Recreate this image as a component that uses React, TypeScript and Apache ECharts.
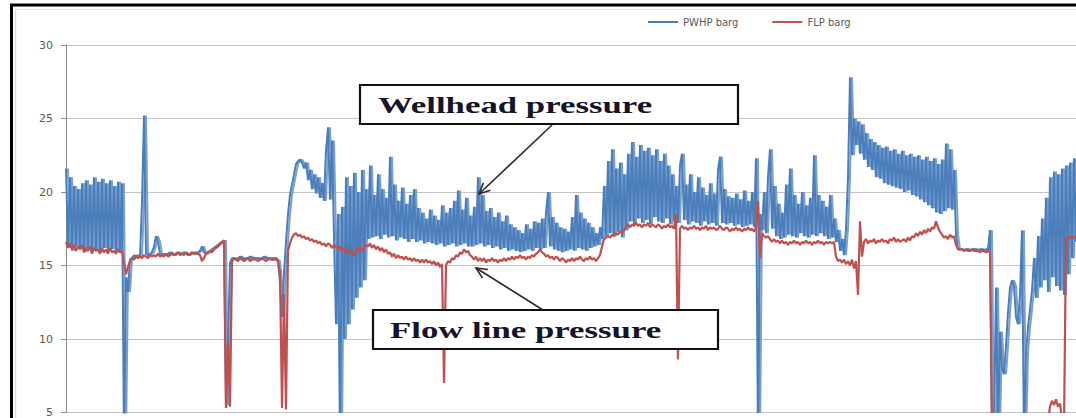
import React, { useEffect, useRef } from 'react';
import * as echarts from 'echarts';

// Y-axis ticks and series names
const yTicks = [5, 10, 15, 20, 25, 30];
const seriesNames = ['PWHP barg', 'FLP barg'];

// PWHP barg (wellhead pressure), one reading every 2 samples
const pwhp1 = [21.6, 16.2, 21.0, 16.0, 20.4, 16.3, 20.2, 16.1, 20.6, 15.9, 20.8, 16.2, 20.5, 16.0, 21.0, 16.1, 20.7, 15.9, 20.9, 16.2, 20.6, 16.0, 20.8, 16.1, 20.4, 15.9, 20.7, 16.0, 20.6];
const pwhp2 = [3.0, 14.2, 13.2, 15.4, 15.5, 15.7, 15.6, 15.7, 15.6, 19.3, 25.2, 15.8, 15.7, 15.8, 15.9, 16.3, 17.0, 16.6, 15.8, 15.7, 15.8, 15.7, 15.8, 15.9, 15.8, 15.7, 15.8, 15.9, 15.8, 15.8, 15.9, 15.8, 15.7, 15.8, 15.9, 15.8, 15.8, 15.9, 16.0, 16.3, 15.9, 15.8, 15.9, 16.0, 16.1, 16.2, 16.3, 16.4, 16.5, 16.6];
const pwhp3 = [16.7, 5.5, 9.8, 15.2, 15.5, 15.5, 15.4, 15.5, 15.6, 15.5, 15.4, 15.5, 15.5, 15.6, 15.5, 15.4, 15.5, 15.5, 15.4, 15.5, 15.6, 15.5, 15.5, 15.4, 15.5, 15.5, 15.4, 15.3];
const pwhp4 = [13.8, 11.5, 14.5, 16.6, 18.5, 19.8, 20.5, 21.2, 21.9, 22.1, 22.2, 22.0, 21.6, 22.0, 20.8, 21.5, 20.2, 21.2, 19.9, 21.0, 19.6, 20.6, 19.4, 22.8, 24.4, 19.5, 23.5, 17.0, 11.0, 18.5, 3.0, 19.0, 10.0, 21.0, 11.0, 20.4, 12.0, 21.3, 12.8, 20.0, 13.5, 21.5, 14.0, 20.2];
const pwhp5 = [16.8, 21.8, 16.9, 19.8, 17.0, 21.2, 16.8, 20.2, 17.1, 19.6, 16.9, 22.4, 17.0, 20.5, 16.7, 19.4, 16.9, 20.3, 16.8, 19.2, 16.6, 19.8, 16.8, 20.2, 16.6, 18.9, 16.7, 18.6, 16.5, 18.2, 16.6, 18.8, 16.5, 18.4, 16.4, 18.1, 16.5, 19.1, 16.3, 18.6, 16.4, 18.9, 16.5, 19.4, 16.3, 20.1, 16.4, 18.8, 16.5, 19.6, 16.3, 18.4];
const pwhp6 = [16.3, 19.0, 16.4, 21.0, 16.5, 19.8, 16.3, 18.7, 16.4, 18.9, 16.2, 18.3, 16.3, 18.6, 16.1, 18.0, 16.2, 18.4, 16.0, 17.8, 16.1, 17.6, 16.0, 17.4, 15.9, 17.2, 16.0, 17.8, 16.1, 17.5, 16.0, 18.0, 16.2, 17.9, 16.1, 18.2, 16.2, 18.6, 20.0, 16.3, 18.3, 16.1, 17.9, 16.0, 17.6, 15.9, 17.5, 16.0, 17.3, 16.1, 18.3, 16.0, 19.8, 16.2, 18.6, 16.1, 18.2, 16.0, 17.9, 16.2, 17.6, 16.3, 17.2, 16.4, 17.6, 16.8];
const pwhp7 = [20.4, 17.0, 22.1, 17.2, 22.9, 17.0, 21.6, 17.3, 22.0, 16.9, 21.2, 17.4, 22.6, 18.0, 23.4, 17.8, 22.4, 18.2, 23.2, 17.9, 22.8, 18.1, 23.0, 17.8, 22.5, 18.3, 22.9, 18.0, 22.1, 17.9, 22.6, 18.2, 21.8, 17.8];
const pwhp8 = [21.2, 18.0, 20.4, 17.9, 21.8, 22.6, 18.1, 20.5, 17.8, 21.2, 18.0, 20.0, 17.9, 21.0, 17.7, 20.3, 18.0, 19.8, 17.8, 20.6, 17.9, 19.9, 17.7, 21.5, 22.4, 17.9, 20.2, 17.8, 19.7, 17.9, 19.6, 17.7, 19.9, 17.8, 19.5, 17.6, 20.1, 17.7, 19.4, 17.8, 20.0, 17.6, 22.3, 3.0, 18.5, 17.4, 20.0];
const pwhp9 = [17.2, 21.0, 22.9, 17.5, 20.4, 17.0, 19.2, 16.8, 18.6, 16.9, 20.5, 17.1, 21.6, 17.0, 19.8, 16.9, 19.2, 17.2, 20.0, 17.0, 19.1, 16.9, 19.6, 17.1, 22.5, 17.0, 19.8, 17.2, 19.4, 17.0, 19.0, 16.8, 19.8, 16.9, 18.2, 16.6, 17.4, 16.0, 16.8, 15.7, 17.5, 21.0, 27.8, 22.5, 25.0, 23.2, 24.8, 22.6];
const pwhp10 = [24.6, 22.2, 24.0, 21.7, 23.6, 21.5, 23.4, 21.0, 23.2, 20.9, 23.0, 20.6, 23.1, 20.5, 22.8, 20.4, 22.9, 20.3, 22.6, 20.2, 22.8, 20.0, 22.5, 20.1, 22.6, 19.8, 22.4, 19.7, 22.5, 19.5, 22.2, 19.3, 22.4, 19.1, 22.1, 18.9, 22.3, 18.6, 21.9, 18.5, 22.2, 18.7, 23.3, 18.9, 22.9, 18.8, 21.5, 17.1, 16.1];
const pwhp11 = [16.1, 16.1, 16.0, 16.1, 16.1, 16.0, 16.1, 16.1, 16.1, 16.0, 16.1, 16.1, 16.0, 16.1, 16.1];
const pwhp12 = [17.4, 3.0, 4.0, 13.5, 3.5, 10.5, 8.0, 7.6, 9.5, 11.8, 13.5, 14.0, 13.6, 11.5, 11.0, 13.0, 17.4, 3.0, 9.0, 10.8, 12.0, 13.3, 15.5, 12.8, 17.0, 13.5, 18.2, 14.0, 19.6, 13.2, 21.0, 14.2, 21.4, 13.6, 21.2, 13.3, 21.6, 13.0, 21.8, 14.4, 22.0, 15.5, 22.3, 16.6];

// FLP barg (flow line pressure), same sampling
const flp1 = [16.6, 16.2, 16.5, 16.1, 16.4, 16.0, 16.3, 16.1, 16.4, 15.9, 16.2, 16.0, 16.3, 15.8, 16.2, 16.0, 16.1, 15.8, 16.2, 15.9, 16.1, 15.8, 16.2, 15.9, 16.0, 15.8, 16.1, 15.9, 16.0];
const flp2 = [15.2, 14.4, 14.9, 15.3, 15.5, 15.4, 15.6, 15.5, 15.6, 15.5, 15.7, 15.6, 15.5, 15.7, 15.6, 15.7, 15.6, 15.8, 15.6, 15.7, 15.6, 15.8, 15.6, 15.7, 15.8, 15.7, 15.8, 15.9, 15.7, 15.8, 15.7, 15.9, 15.8, 15.7, 15.9, 15.8, 15.9, 15.8, 15.7, 15.3, 15.5, 15.8, 15.9, 16.0, 15.9, 16.1, 16.2, 16.3, 16.5, 16.6];
const flp3 = [16.7, 5.3, 9.7, 5.4, 15.3, 15.5, 15.4, 15.3, 15.5, 15.4, 15.3, 15.4, 15.5, 15.3, 15.4, 15.5, 15.4, 15.3, 15.4, 15.5, 15.4, 15.3, 15.4, 15.5, 15.4, 15.4, 15.5, 15.3];
const flp4 = [14.5, 5.3, 13.0, 5.2, 16.0, 16.5, 16.9, 17.1, 17.2, 17.0, 17.1, 16.9, 17.0, 16.8, 16.9, 16.7, 16.8, 16.6, 16.7, 16.5, 16.6, 16.4, 16.5, 16.3, 16.5, 16.4, 16.2, 16.4, 16.3, 16.1, 16.3, 16.0, 16.2, 15.9, 16.1, 15.8, 16.0, 15.7, 15.9, 16.1, 16.3, 16.0, 16.2, 16.4];
const flp5 = [16.3, 16.5, 16.2, 16.4, 16.1, 16.3, 16.0, 16.2, 15.9, 16.1, 15.8, 15.9, 15.6, 15.8, 15.5, 15.7, 15.5, 15.6, 15.4, 15.6, 15.4, 15.5, 15.3, 15.5, 15.3, 15.4, 15.2, 15.4, 15.2, 15.4, 15.2, 15.3, 15.1, 15.3, 15.0, 15.2, 14.9, 15.1, 7.0, 15.0, 15.3, 15.2, 15.5, 15.4, 15.7, 15.6, 15.9, 15.8, 16.1, 15.9, 16.0, 15.7];
const flp6 = [15.6, 15.4, 15.6, 15.3, 15.5, 15.3, 15.5, 15.2, 15.4, 15.3, 15.5, 15.3, 15.4, 15.2, 15.4, 15.3, 15.5, 15.3, 15.5, 15.4, 15.6, 15.4, 15.6, 15.5, 15.7, 15.5, 15.6, 15.4, 15.6, 15.5, 15.7, 15.6, 15.8, 15.9, 16.1, 15.9, 15.8, 15.6, 15.7, 15.5, 15.6, 15.4, 15.6, 15.5, 15.3, 15.5, 15.4, 15.2, 15.4, 15.3, 15.5, 15.3, 15.5, 15.4, 15.6, 15.4, 15.3, 15.5, 15.4, 15.6, 15.4, 15.5, 15.3, 15.5, 15.7, 16.3];
const flp7 = [16.8, 16.9, 17.0, 16.9, 17.1, 17.0, 17.2, 17.1, 17.3, 17.2, 17.4, 17.6, 17.8, 17.6, 17.8, 17.7, 17.9, 17.7, 17.8, 17.6, 17.8, 17.7, 17.9, 17.6, 17.8, 17.7, 17.6, 17.8, 17.7, 17.5, 17.7, 17.6, 17.8, 17.6];
const flp8 = [17.7, 17.5, 18.5, 8.6, 17.5, 17.7, 17.5, 17.6, 17.4, 17.6, 17.5, 17.7, 17.5, 17.6, 17.4, 17.6, 17.5, 17.7, 17.4, 17.6, 17.5, 17.6, 17.4, 17.5, 17.7, 17.5, 17.4, 17.6, 17.5, 17.3, 17.5, 17.4, 17.6, 17.4, 17.5, 17.3, 17.5, 17.4, 17.6, 17.4, 17.5, 17.3, 17.6, 19.4, 15.5, 17.2, 17.0];
const flp9 = [16.9, 17.0, 16.8, 16.6, 16.8, 16.6, 16.7, 16.5, 16.7, 16.5, 16.6, 16.4, 16.6, 16.5, 16.7, 16.5, 16.6, 16.4, 16.6, 16.5, 16.7, 16.5, 16.6, 16.4, 16.6, 16.5, 16.7, 16.5, 16.6, 16.4, 16.6, 16.5, 16.6, 16.5, 16.6, 15.6, 15.3, 15.4, 15.2, 15.4, 15.1, 15.3, 15.0, 15.4, 14.8, 15.3, 13.0, 18.0];
const flp10 = [15.6, 16.6, 16.8, 16.5, 16.7, 16.6, 16.8, 16.5, 16.7, 16.6, 16.8, 16.6, 16.7, 16.5, 16.8, 16.7, 16.9, 16.6, 16.8, 16.6, 16.7, 16.8, 16.6, 16.9, 16.7, 17.0, 16.9, 17.2, 17.0, 17.3, 17.1, 17.4, 17.2, 17.5, 17.3, 17.6, 17.5, 18.0, 17.6, 17.3, 17.1, 16.9, 17.0, 16.8, 17.1, 16.9, 17.0, 16.4, 16.1];
const flp11 = [16.1, 16.1, 16.0, 16.1, 16.0, 16.0, 16.1, 16.0, 16.0, 16.0, 15.9, 16.0, 16.0, 15.9, 16.0];
const flp12 = [15.9, 4.0, 4.2, 4.0, 4.1, 3.9, 4.0, 4.2, 4.0, 3.8, 4.1, 4.0, 3.9, 4.1, 4.0, 4.2, 4.0, 3.9, 4.1, 4.0, 3.8, 4.0, 4.1, 3.9, 4.0, 4.2, 4.0, 4.1, 3.9, 4.4, 5.4, 5.8, 5.5, 5.9, 5.4, 5.6, 4.5, 4.0, 16.9, 16.8, 17.0, 16.8, 16.9, 17.0];

const pwhp = [...pwhp1, ...pwhp2, ...pwhp3, ...pwhp4, ...pwhp5, ...pwhp6, ...pwhp7, ...pwhp8, ...pwhp9, ...pwhp10, ...pwhp11, ...pwhp12];
const flp = [...flp1, ...flp2, ...flp3, ...flp4, ...flp5, ...flp6, ...flp7, ...flp8, ...flp9, ...flp10, ...flp11, ...flp12];
const sampleIds = pwhp.map((_, i) => String(i * 2));

const annotations = [
  { text: 'Wellhead pressure', box: [360, 85, 378, 39], textX: 378, textY: 105, from: [552, 125], tip: [479, 194] },
  { text: 'Flow line pressure', box: [373, 310, 345, 39], textX: 390, textY: 330, from: [543, 310], tip: [476, 268] },
];

function arrowHead(from: number[], tip: number[], len: number) {
  const dx = from[0] - tip[0];
  const dy = from[1] - tip[1];
  const d = Math.sqrt(dx * dx + dy * dy);
  const bx = dx / d;
  const by = dy / d;
  const a = (25 * Math.PI) / 180;
  const c = Math.cos(a);
  const s = Math.sin(a);
  const w1 = [tip[0] + (bx * c - by * s) * len, tip[1] + (bx * s + by * c) * len];
  const w2 = [tip[0] + (bx * c + by * s) * len, tip[1] + (-bx * s + by * c) * len];
  return [w1, tip, w2];
}

export default function App() {
  const ref = useRef<HTMLDivElement>(null);

  useEffect(() => {
    if (!ref.current) return;
    const chart = echarts.init(ref.current, undefined, { renderer: 'svg' });

    const graphic: any[] = [
      { type: 'line', z: 100, shape: { x1: 10, y1: 5, x2: 1076, y2: 5 }, style: { stroke: '#000', lineWidth: 3 } },
      { type: 'line', z: 100, shape: { x1: 11.5, y1: 4, x2: 11.5, y2: 418 }, style: { stroke: '#000', lineWidth: 3 } },
      { type: 'line', z: 100, shape: { x1: 16, y1: 9.5, x2: 1076, y2: 9.5 }, style: { stroke: '#dfe6ea', lineWidth: 1 } },
      { type: 'line', z: 100, shape: { x1: 15.5, y1: 9, x2: 15.5, y2: 418 }, style: { stroke: '#cfe3e8', lineWidth: 1.5 } },
      { type: 'rect', z: 90, shape: { x: 163, y: 413, width: 913, height: 5 }, style: { fill: '#ffffff' } },
    ];
    annotations.forEach((a) => {
      graphic.push({
        type: 'line', z: 110,
        shape: { x1: a.from[0], y1: a.from[1], x2: a.tip[0], y2: a.tip[1] },
        style: { stroke: '#2b2b2b', lineWidth: 1.6 },
      });
      graphic.push({
        type: 'polyline', z: 110,
        shape: { points: arrowHead(a.from, a.tip, 12) },
        style: { stroke: '#2b2b2b', lineWidth: 1.6, fill: 'none' },
      });
      graphic.push({
        type: 'rect', z: 111,
        shape: { x: a.box[0], y: a.box[1], width: a.box[2], height: a.box[3] },
        style: { fill: '#ffffff', stroke: '#111111', lineWidth: 2.2 },
      });
      graphic.push({
        type: 'text', z: 112, x: a.textX, y: a.textY, scaleX: 1.45,
        style: {
          text: a.text, fontSize: 24, fontWeight: 'bold', fontFamily: '"Liberation Serif", "DejaVu Serif", serif',
          fill: '#14142a', align: 'left', verticalAlign: 'middle',
        },
      });
    });

    chart.setOption({
      animation: false,
      backgroundColor: '#ffffff',
      grid: { left: 66, right: 0, top: 45, bottom: 2, containLabel: false },
      legend: {
        data: seriesNames, left: 648, top: 17, padding: 0, icon: 'rect',
        itemWidth: 30, itemHeight: 2, itemGap: 34,
        textStyle: { fontSize: 10, color: '#595959', fontFamily: '"DejaVu Sans", sans-serif' },
      },
      xAxis: {
        type: 'category', data: sampleIds, boundaryGap: false, show: false,
      },
      yAxis: {
        type: 'value', min: yTicks[0], max: yTicks[yTicks.length - 1], interval: 5,
        axisLine: { show: true, lineStyle: { color: '#8c8c8c', width: 1 } },
        axisTick: { show: true, length: 5, lineStyle: { color: '#8c8c8c' } },
        axisLabel: { margin: 13, fontSize: 11, color: '#595959', fontFamily: '"DejaVu Sans", sans-serif' },
        splitLine: { show: true, lineStyle: { color: '#c4c4c4', width: 1 } },
      },
      series: [
        {
          name: seriesNames[0], type: 'line', data: pwhp, showSymbol: false, symbol: 'none',
          silent: true, z: 2,
          lineStyle: {
            color: '#4a7ebb', width: 2,
            shadowColor: '#7aa0d0', shadowBlur: 0, shadowOffsetX: 2, shadowOffsetY: 0,
          },
          itemStyle: { color: '#4a7ebb' },
        },
        {
          name: seriesNames[1], type: 'line', data: flp, showSymbol: false, symbol: 'none',
          silent: true, z: 3,
          lineStyle: { color: '#c0504d', width: 2.2 }, itemStyle: { color: '#c0504d' },
        },
      ],
      graphic,
    });

    return () => chart.dispose();
  }, []);

  return (
    <div
      ref={ref}
      style={{ position: 'absolute', left: 0, top: 0, width: 1076, height: 418, background: '#fff' }}
    />
  );
}
